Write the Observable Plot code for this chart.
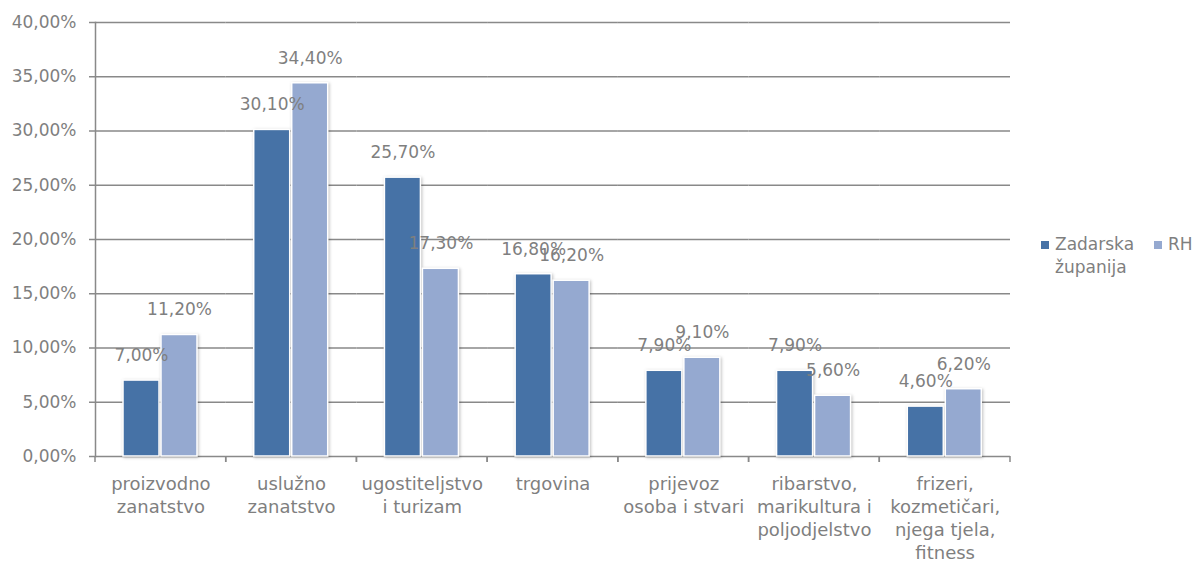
<!DOCTYPE html>
<html>
<head>
<meta charset="utf-8">
<script src="https://cdn.jsdelivr.net/npm/d3@7"></script>
<script src="https://cdn.jsdelivr.net/npm/@observablehq/plot@0.6"></script>
<style>
  body { margin: 0; background: #fff; font-family: "DejaVu Sans", sans-serif; }
  #wrap { position: relative; width: 1198px; height: 565px; }
  #legend { position: absolute; left: 1041px; top: 233px; display: flex; gap: 15px;
            font: 17px "DejaVu Sans"; color: #7f7f7f; line-height: 23px; }
  #legend .item { display: flex; align-items: flex-start; }
  #legend .sw { width: 8px; height: 8px; margin-top: 8px; margin-right: 6px; flex: none; }
  #legend .lab { max-width: 84px; }
  g[aria-label="bar"] rect { filter: drop-shadow(1px 1px 1.5px rgba(0,0,0,0.25)); }
</style>
</head>
<body>
<div id="wrap"><div id="chart"></div><div id="legend"></div></div>
<script>
const categories = [
  "proizvodno\nzanatstvo",
  "uslužno\nzanatstvo",
  "ugostiteljstvo\ni turizam",
  "trgovina",
  "prijevoz\nosoba i stvari",
  "ribarstvo,\nmarikultura i\npoljodjelstvo",
  "frizeri,\nkozmetičari,\nnjega tjela,\nfitness"
];
const series = ["Zadarska županija", "RH"];
const zadarska = [7.0, 30.1, 25.7, 16.8, 7.9, 7.9, 4.6];
const rh = [11.2, 34.4, 17.3, 16.2, 9.1, 5.6, 6.2];
const yTicks = [0, 5, 10, 15, 20, 25, 30, 35, 40];
const colors = ["#4672a6", "#95a9d0"];

const rows = categories.flatMap((c, i) => [
  {category: c, series: series[0], value: zadarska[i]},
  {category: c, series: series[1], value: rh[i]}
]);
const fmt = v => d3.format(".2f")(v).replace(".", ",") + "%";
const gray = "#7f7f7f";
const lineGray = "#898989";

// per-facet: short tick marks at the facet's left and right edges, below the baseline
function boundaryTicks(index, scales, values, dims) {
  const {width, marginLeft: ml, marginRight: mr} = dims;
  const y0 = scales.y(0);
  const g = d3.create("svg:g").attr("stroke", lineGray).attr("stroke-width", 1.5);
  for (const x of [ml, width - mr]) {
    g.append("line").attr("x1", x).attr("x2", x).attr("y1", y0).attr("y2", y0 + 6);
  }
  return g.node();
}

const chart = Plot.plot({
  width: 1198,
  height: 565,
  marginTop: 22,
  marginBottom: 109,
  marginLeft: 95,
  marginRight: 188,
  style: {fontFamily: "DejaVu Sans", background: "#fff", overflow: "visible"},
  fx: {domain: categories, padding: 0, round: false, label: null},
  x: {domain: series, paddingInner: 0.05, paddingOuter: 0.72, axis: null},
  y: {domain: [0, 40], label: null},
  color: {domain: series, range: colors},
  marks: [
    Plot.gridY(yTicks, {stroke: lineGray, strokeOpacity: 1, strokeWidth: 1.5}),
    Plot.frame({anchor: "left", facet: "super", stroke: lineGray, strokeWidth: 1.5}),
    Plot.barY(rows, {fx: "category", x: "series", y: "value", fill: "series", stroke: "#fff", strokeWidth: 1.5}),
    Plot.text(rows, {fx: "category", x: "series", y: "value", text: d => fmt(d.value), dy: -25, fill: gray, fontSize: 17}),
    Plot.axisY({ticks: yTicks, tickFormat: d => fmt(d), tickSize: 6, tickPadding: 13, fontSize: 17, color: gray, stroke: lineGray, strokeWidth: 1.5, label: null}),
    Plot.axisFx({anchor: "bottom", tickSize: 0, tickPadding: 17, fontSize: 18, lineHeight: 1.28, color: gray, label: null}),
    boundaryTicks
  ]
});
document.getElementById("chart").appendChild(chart);

const legend = document.getElementById("legend");
series.forEach((s, i) => {
  const item = document.createElement("div");
  item.className = "item";
  const sw = document.createElement("span");
  sw.className = "sw";
  sw.style.background = colors[i];
  const lab = document.createElement("span");
  lab.className = "lab";
  lab.textContent = s;
  item.appendChild(sw);
  item.appendChild(lab);
  legend.appendChild(item);
});
</script>
</body>
</html>
